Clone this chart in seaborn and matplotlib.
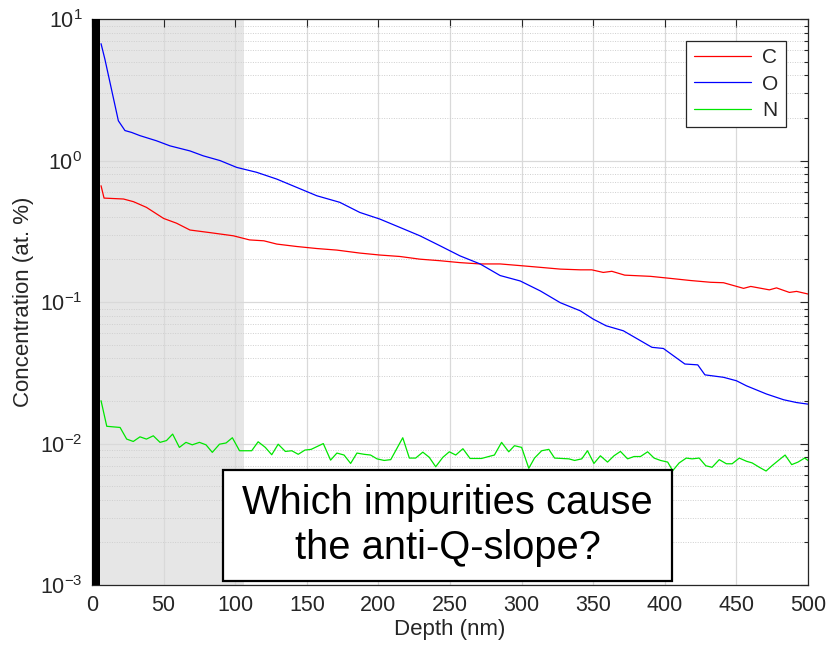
import numpy as np
import pandas as pd
import seaborn as sns
import matplotlib
matplotlib.use("Agg")
import matplotlib.pyplot as plt
from matplotlib.patches import Rectangle
from matplotlib.ticker import LogLocator, MultipleLocator, NullFormatter

# Depth profiles (nm, at. %).
o_depth = [6.3, 9, 18.4, 23, 27.7, 33.5, 45, 54.5, 68.4, 77.7, 89.4, 101, 115, 129, 143,
           157, 173, 187, 201, 215, 229, 243, 257, 271, 285, 299, 313, 327, 341, 350,
           359, 371, 391, 399, 414, 423, 428, 441, 450, 457, 471, 483, 492, 500]
o_conc = [6.7, 5.2, 1.91, 1.63, 1.58, 1.50, 1.38, 1.27, 1.17, 1.08, 1.0, 0.895, 0.826, 0.74, 0.646,
          0.564, 0.507, 0.43, 0.386, 0.337, 0.294, 0.25, 0.212, 0.186, 0.154, 0.141, 0.12, 0.099, 0.0867, 0.0758,
          0.068, 0.0627, 0.0479, 0.047, 0.0365, 0.036, 0.0306, 0.0294, 0.0278, 0.0256, 0.0224, 0.0204, 0.0195, 0.019]

c_depth = [6.3, 8.4, 22, 29, 38, 50, 59, 68.4, 82, 98.7, 110, 120, 129, 143, 157, 171, 187,
           201, 215, 229, 243, 257, 271, 285, 299, 313, 327, 341, 349, 357, 363, 372, 390,
           404, 418, 432, 441, 455, 460, 473, 478, 487, 492, 500]
c_conc = [0.664, 0.543, 0.535, 0.512, 0.467, 0.39, 0.361, 0.323, 0.31, 0.294, 0.275, 0.271, 0.257, 0.247,
          0.239, 0.233, 0.222, 0.215, 0.21, 0.201, 0.196, 0.19, 0.186, 0.186, 0.181, 0.176, 0.171, 0.169,
          0.169, 0.162, 0.165, 0.155, 0.152, 0.147, 0.142, 0.138, 0.137, 0.125, 0.129, 0.122, 0.126,
          0.117, 0.119, 0.114]

n_depth = [6.3, 10.3, 19.6, 24.2, 28.8, 33.5, 38, 42.8, 47.5, 52, 56.3, 61, 65.6, 70, 75, 79.6,
           84, 89, 93.6, 98, 103, 111.5, 116, 121, 125.5, 130, 135, 139.5, 144, 148.7, 153,
           161.5, 166.6, 171, 176, 180.6, 185, 190, 194.5, 199, 204, 208.6, 217, 221.6, 226,
           231, 235.5, 240, 245, 249.5, 254, 259, 264, 272, 277, 281, 286, 291, 295, 300, 305,
           309, 314, 319, 323, 333, 337, 342, 346, 350.5, 355, 360, 364.5, 369, 374, 378.5,
           383, 388, 392.5, 397, 402, 405.5, 410, 415, 419, 424, 428.6, 433, 438, 443, 447,
           452, 457, 461, 466, 470.7, 475, 480, 484, 488.6, 493, 497.6, 500]
n_conc = [0.0201, 0.01325, 0.0130, 0.01076, 0.01035, 0.01116, 0.01076, 0.01135, 0.0102, 0.0105,
          0.01167, 0.0094, 0.0102, 0.0098, 0.0102, 0.0098, 0.00867, 0.0099, 0.0101, 0.0110, 0.0089,
          0.0089, 0.0103, 0.0094, 0.00834, 0.0099, 0.0088, 0.0089, 0.0084, 0.0090, 0.0091, 0.0100,
          0.00764, 0.00857, 0.0083, 0.00724, 0.00857, 0.0084, 0.0083, 0.0078, 0.0076, 0.0077, 0.0110,
          0.0079, 0.0079, 0.0087, 0.0080, 0.00686, 0.0080, 0.00875, 0.0083, 0.0092, 0.00785, 0.00785,
          0.0081, 0.0083, 0.0102, 0.00875, 0.00966, 0.0094, 0.00669, 0.0079, 0.0089, 0.0091, 0.0079,
          0.0078, 0.0076, 0.0078, 0.0089, 0.00724, 0.0082, 0.0074, 0.0082, 0.0088, 0.0078, 0.0081,
          0.0081, 0.00875, 0.0079, 0.0076, 0.0074, 0.00643, 0.0073, 0.0079, 0.0078, 0.0079, 0.00697,
          0.0068, 0.0077, 0.0072, 0.0072, 0.0079, 0.0075, 0.0073, 0.0068, 0.0064, 0.0070, 0.0077,
          0.0083, 0.0071, 0.0074, 0.0079, 0.0076]

OXIDE_END = 5.5     # black bar
SHADE_END = 106     # grey region
NOTE = "Which impurities cause\nthe anti-Q-slope?"

sns.set_theme(style="white")
plt.rcParams["font.family"] = ["Liberation Sans", "DejaVu Sans"]
plt.rcParams["mathtext.fontset"] = "custom"
plt.rcParams["mathtext.rm"] = "Liberation Sans"
plt.rcParams["mathtext.it"] = "Liberation Sans:italic"

TEXT = "#262626"

fig = plt.figure(figsize=(8.29, 6.53), dpi=100)
ax = fig.add_axes([0.111, 0.104, 0.8637, 0.8668])

ax.axvspan(0, SHADE_END, color="#e6e6e6", lw=0, zorder=0.2)

series = [("C", c_depth, c_conc, "#ff0000"),
          ("O", o_depth, o_conc, "#0000ff"),
          ("N", n_depth, n_conc, "#00e600")]
for name, d, v, col in series:
    df = pd.DataFrame({"Depth": d, "Conc": v})
    sns.lineplot(data=df, x="Depth", y="Conc", ax=ax, color=col, lw=0.9, label=name, zorder=2)

ax.axvspan(0, OXIDE_END, color="black", lw=0, zorder=3)

ax.set_yscale("log")
ax.set_xlim(0, 500)
ax.set_ylim(1e-3, 1e1)
ax.xaxis.set_major_locator(MultipleLocator(50))
ax.yaxis.set_major_locator(LogLocator(base=10, numticks=10))
ax.yaxis.set_minor_locator(LogLocator(base=10, subs=np.arange(2, 10), numticks=20))
ax.yaxis.set_minor_formatter(NullFormatter())

ax.set_axisbelow(True)
ax.grid(True, which="major", axis="both", color="#d9d9d9", lw=0.9, ls="-")
ax.grid(True, which="minor", axis="y", color="#cfcfcf", lw=0.7, ls=(0, (1, 1.5)))

ax.tick_params(which="both", direction="in", top=True, right=True, colors=TEXT,
               labelsize=15.5, labelcolor=TEXT, width=0.8)
ax.tick_params(which="major", length=6, pad=7)
ax.tick_params(which="minor", length=3)
for s in ax.spines.values():
    s.set_color(TEXT)
    s.set_linewidth(0.9)

ax.set_xlabel("Depth (nm)", fontsize=16, color=TEXT, labelpad=2)
ax.set_ylabel("Concentration (at. %)", fontsize=16, color=TEXT, labelpad=4)

leg = ax.legend(loc="upper right", bbox_to_anchor=(0.969, 0.961), borderaxespad=0,
                fontsize=15, frameon=True, fancybox=False, handlelength=2.75,
                handletextpad=0.55, borderpad=0.35, labelspacing=0.35)
leg.get_frame().set_edgecolor(TEXT)
leg.get_frame().set_linewidth(0.9)
leg.get_frame().set_alpha(1)
leg.set_zorder(6)

# question box (axes fractions)
box = Rectangle((0.183, 0.007), 0.627, 0.196, transform=ax.transAxes,
                fc="white", ec="black", lw=1.6, zorder=7)
ax.add_patch(box)
ax.text(0.4965, 0.105, NOTE, transform=ax.transAxes, ha="center", va="center",
        fontsize=28.7, color="black", linespacing=1.25, zorder=8)

fig.savefig("out.png", dpi=100)
